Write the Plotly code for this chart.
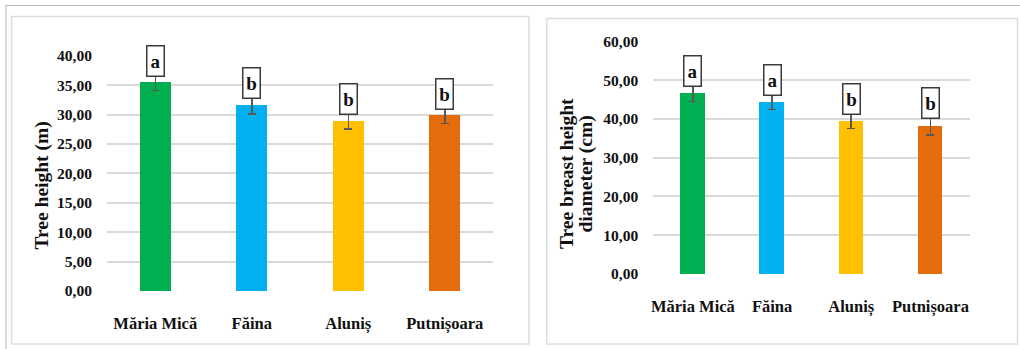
import plotly.graph_objects as go

# Sites and measurements
sites = ["Măria Mică", "Făina", "Aluniș", "Putnișoara"]
bar_colors = ["#00B050", "#00B0F0", "#FFC000", "#E46C0A"]

height_mean = [35.5, 31.6, 29.0, 29.9]
height_err = [1.4, 1.5, 1.5, 1.45]
height_groups = ["a", "b", "b", "b"]

dbh_mean = [46.5, 44.3, 39.4, 38.0]
dbh_err = [2.0, 1.9, 1.9, 2.1]
dbh_groups = ["a", "a", "b", "b"]

height_ticks = [0, 5, 10, 15, 20, 25, 30, 35, 40]
dbh_ticks = [0, 10, 20, 30, 40, 50, 60]

W, H = 1020, 349
SERIF = "Liberation Serif, Times New Roman, serif"
TXT = "#111111"
GRID = "#d9d9d9"


def px_x(v):
    return v / W


def px_y(v):
    return 1 - v / H


fig = go.Figure()

fig.add_trace(go.Bar(
    x=sites, y=height_mean, width=0.32,
    marker=dict(color=bar_colors, line=dict(width=0)),
    error_y=dict(type="data", array=height_err, visible=True,
                 color="#595959", thickness=1.5, width=4),
    xaxis="x", yaxis="y", showlegend=False,
))
fig.add_trace(go.Bar(
    x=sites, y=dbh_mean, width=0.31,
    marker=dict(color=bar_colors, line=dict(width=0)),
    error_y=dict(type="data", array=dbh_err, visible=True,
                 color="#595959", thickness=1.5, width=4),
    xaxis="x2", yaxis="y2", showlegend=False,
))

tick_font = dict(family=SERIF, size=15.5, color=TXT, weight="bold")
cat_font = dict(family=SERIF, size=16.5, color=TXT, weight="bold")

axis_common = dict(showline=False, zeroline=False, showgrid=False, automargin=False)

fig.update_layout(
    width=W, height=H,
    margin=dict(l=0, r=0, t=0, b=0, pad=0, autoexpand=False),
    paper_bgcolor="white", plot_bgcolor="white",
    separators=",.",
    bargap=0,
    xaxis=dict(domain=[px_x(107), px_x(493)], tickfont=cat_font,
               ticks="outside", ticklen=17, tickcolor="rgba(0,0,0,0)",
               **axis_common),
    yaxis=dict(domain=[px_y(291), px_y(55.7)], range=[0, 40],
               tickvals=height_ticks, tickformat=".2f", tickfont=tick_font,
               ticks="outside", ticklen=11, tickcolor="rgba(0,0,0,0)",
               showgrid=True, gridcolor=GRID, gridwidth=1.5,
               zeroline=False, showline=False, automargin=False),
    xaxis2=dict(domain=[px_x(653.3), px_x(970)], anchor="y2",
                tickfont=cat_font, ticks="outside", ticklen=17,
                tickcolor="rgba(0,0,0,0)", **axis_common),
    yaxis2=dict(domain=[px_y(274), px_y(41.3)], range=[0, 60], anchor="x2",
                tickvals=dbh_ticks, tickformat=".2f", tickfont=tick_font,
                ticks="outside", ticklen=11, tickcolor="rgba(0,0,0,0)",
                showgrid=True, gridcolor=GRID, gridwidth=1.5,
                zeroline=False, showline=False, automargin=False),
)

# Significance letters boxed above each error bar
letter_font = dict(family=SERIF, size=19, color=TXT, weight="bold")
for site, m, e, g in zip(sites, height_mean, height_err, height_groups):
    fig.add_annotation(x=site, y=m + e, xref="x", yref="y", text=g,
                       showarrow=False, yanchor="bottom", yshift=-3,
                       width=16, height=29, borderpad=0, borderwidth=1.5,
                       bordercolor="#3a3a3a", bgcolor="white", font=letter_font)
for site, m, e, g in zip(sites, dbh_mean, dbh_err, dbh_groups):
    fig.add_annotation(x=site, y=m + e, xref="x2", yref="y2", text=g,
                       showarrow=False, yanchor="bottom", yshift=-1,
                       width=16, height=29, borderpad=0, borderwidth=1.5,
                       bordercolor="#3a3a3a", bgcolor="white", font=letter_font)

# Axis titles
title_font = dict(family=SERIF, size=19.5, color=TXT, weight="bold")
fig.add_annotation(x=px_x(41.5), y=px_y(186), xref="paper", yref="paper",
                   text="Tree height (m)", textangle=-90, showarrow=False,
                   xanchor="center", yanchor="middle", font=title_font)
fig.add_annotation(x=px_x(566), y=px_y(174), xref="paper", yref="paper",
                   text="Tree breast height", textangle=-90, showarrow=False,
                   xanchor="center", yanchor="middle", font=title_font)
fig.add_annotation(x=px_x(585.5), y=px_y(174), xref="paper", yref="paper",
                   text="diameter (cm)", textangle=-90, showarrow=False,
                   xanchor="center", yanchor="middle", font=title_font)

# Chart frames and outer border
frame = dict(color="#dedede", width=1.5)
fig.add_shape(type="rect", xref="paper", yref="paper",
              x0=px_x(11.7), x1=px_x(529), y0=px_y(344), y1=px_y(16.5), line=frame)
fig.add_shape(type="rect", xref="paper", yref="paper",
              x0=px_x(546.7), x1=px_x(1017.5), y0=px_y(344), y1=px_y(18.5), line=frame)
outer = dict(color="#bdbdbd", width=1.2)
fig.add_shape(type="line", xref="paper", yref="paper",
              x0=px_x(5.5), x1=px_x(1020), y0=px_y(5.5), y1=px_y(5.5), line=outer)
fig.add_shape(type="line", xref="paper", yref="paper",
              x0=px_x(6), x1=px_x(6), y0=px_y(5.5), y1=px_y(349), line=outer)

fig.write_html("out.html")
